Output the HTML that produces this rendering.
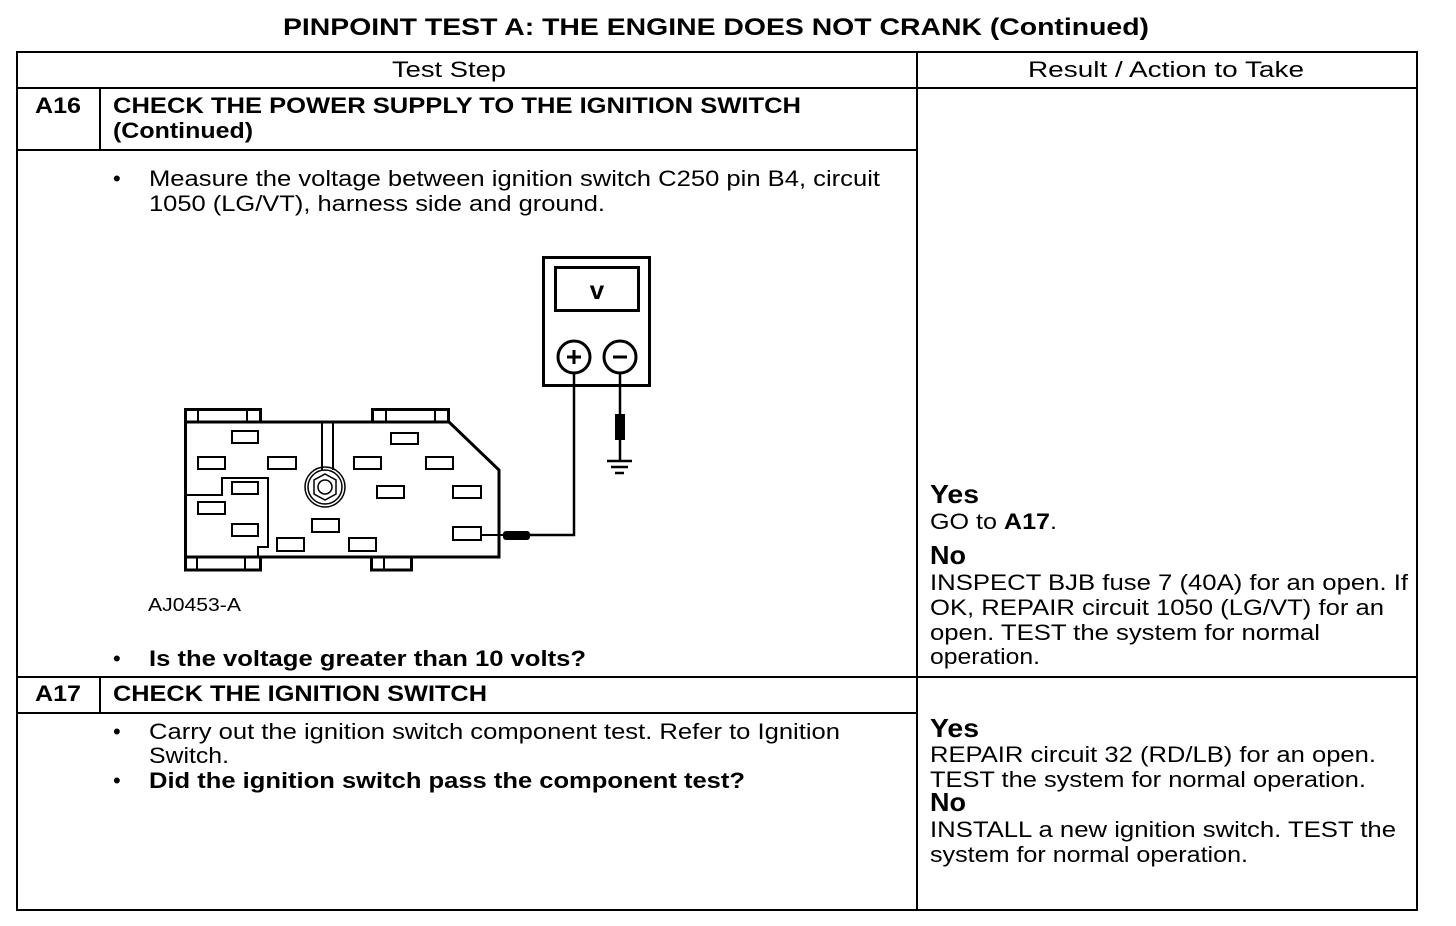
<!DOCTYPE html>
<html><head><meta charset="utf-8"><style>
html,body{margin:0;padding:0;background:#fff;}
svg{display:block;}
text{font-family:"Liberation Sans",Arial,sans-serif;fill:#000;}
.b{font-weight:bold;}
</style></head><body>
<svg width="1456" height="926" viewBox="0 0 1456 926" xmlns="http://www.w3.org/2000/svg">
<rect width="1456" height="926" fill="#fff"/>
<text x="716" y="35" text-anchor="middle" class="b" font-size="24" textLength="866" lengthAdjust="spacingAndGlyphs">PINPOINT TEST  A: THE ENGINE DOES NOT CRANK (Continued)</text>
<g stroke="#000" stroke-width="2" fill="none">
<rect x="17" y="52" width="1400" height="858"/>
<line x1="917" y1="52" x2="917" y2="910"/>
<line x1="17" y1="88" x2="1417" y2="88"/>
<line x1="100" y1="88" x2="100" y2="150"/>
<line x1="17" y1="150" x2="917" y2="150"/>
<line x1="17" y1="677" x2="1417" y2="677"/>
<line x1="100" y1="677" x2="100" y2="713"/>
<line x1="17" y1="713" x2="917" y2="713"/>
</g>
<text x="449" y="77" text-anchor="middle" font-size="22" textLength="114" lengthAdjust="spacingAndGlyphs">Test Step</text>
<text x="1166" y="77" text-anchor="middle" font-size="22" textLength="276" lengthAdjust="spacingAndGlyphs">Result / Action to Take</text>
<text x="35" y="113" class="b" font-size="22" textLength="46" lengthAdjust="spacingAndGlyphs">A16</text>
<text x="113" y="113" class="b" font-size="22" textLength="688" lengthAdjust="spacingAndGlyphs">CHECK THE POWER SUPPLY TO THE IGNITION SWITCH</text>
<text x="113" y="138" class="b" font-size="22" textLength="140" lengthAdjust="spacingAndGlyphs">(Continued)</text>
<text x="113" y="186" font-size="22">•</text>
<text x="149" y="186" font-size="22" textLength="731" lengthAdjust="spacingAndGlyphs">Measure the voltage between ignition switch C250 pin B4, circuit</text>
<text x="149" y="211" font-size="22" textLength="456" lengthAdjust="spacingAndGlyphs">1050 (LG/VT), harness side and ground.</text>
<text x="148" y="611" font-size="18" textLength="93" lengthAdjust="spacingAndGlyphs">AJ0453-A</text>
<text x="113" y="666" font-size="22">•</text>
<text x="149" y="666" class="b" font-size="22" textLength="437" lengthAdjust="spacingAndGlyphs">Is the voltage greater than 10 volts?</text>
<text x="35" y="701" class="b" font-size="22" textLength="46" lengthAdjust="spacingAndGlyphs">A17</text>
<text x="113" y="701" class="b" font-size="22" textLength="374" lengthAdjust="spacingAndGlyphs">CHECK THE IGNITION SWITCH</text>
<text x="113" y="739" font-size="22">•</text>
<text x="149" y="739" font-size="22" textLength="691" lengthAdjust="spacingAndGlyphs">Carry out the ignition switch component test. Refer to Ignition</text>
<text x="149" y="763" font-size="22" textLength="80" lengthAdjust="spacingAndGlyphs">Switch.</text>
<text x="113" y="788" font-size="22">•</text>
<text x="149" y="788" class="b" font-size="22" textLength="596" lengthAdjust="spacingAndGlyphs">Did the ignition switch pass the component test?</text>

<text x="930" y="503" class="b" font-size="26" textLength="49" lengthAdjust="spacingAndGlyphs">Yes</text>
<text x="930" y="529" font-size="22" textLength="127" lengthAdjust="spacingAndGlyphs">GO to <tspan class="b">A17</tspan>.</text>
<text x="930" y="564" class="b" font-size="26" textLength="36" lengthAdjust="spacingAndGlyphs">No</text>
<text x="930" y="590" font-size="22" textLength="478" lengthAdjust="spacingAndGlyphs">INSPECT BJB fuse 7 (40A) for an open. If</text>
<text x="930" y="615" font-size="22" textLength="454" lengthAdjust="spacingAndGlyphs">OK, REPAIR circuit 1050 (LG/VT) for an</text>
<text x="930" y="640" font-size="22" textLength="390" lengthAdjust="spacingAndGlyphs">open. TEST the system for normal</text>
<text x="930" y="664" font-size="22" textLength="110" lengthAdjust="spacingAndGlyphs">operation.</text>
<text x="930" y="737" class="b" font-size="26" textLength="49" lengthAdjust="spacingAndGlyphs">Yes</text>
<text x="930" y="762" font-size="22" textLength="446" lengthAdjust="spacingAndGlyphs">REPAIR circuit 32 (RD/LB) for an open.</text>
<text x="930" y="787" font-size="22" textLength="436" lengthAdjust="spacingAndGlyphs">TEST the system for normal operation.</text>
<text x="930" y="811" class="b" font-size="26" textLength="36" lengthAdjust="spacingAndGlyphs">No</text>
<text x="930" y="837" font-size="22" textLength="466" lengthAdjust="spacingAndGlyphs">INSTALL a new ignition switch. TEST the</text>
<text x="930" y="862" font-size="22" textLength="318" lengthAdjust="spacingAndGlyphs">system for normal operation.</text>

<!-- meter -->
<g stroke="#000" fill="none">
<rect x="543.5" y="257.5" width="106" height="128" stroke-width="3"/>
<rect x="555.5" y="267.5" width="83" height="43" stroke-width="3"/>
<circle cx="574" cy="357" r="16" stroke-width="3"/>
<circle cx="620" cy="357" r="16" stroke-width="3"/>
<line x1="567" y1="357" x2="581" y2="357" stroke-width="3"/>
<line x1="574" y1="350" x2="574" y2="364" stroke-width="3"/>
<line x1="613" y1="357" x2="627" y2="357" stroke-width="3"/>
<polyline points="574,373 574,535 530,535" stroke-width="2.5"/>
<line x1="620" y1="373" x2="620" y2="462" stroke-width="2.5"/>
<line x1="607" y1="461" x2="632" y2="461" stroke-width="2.5"/>
<line x1="611" y1="467" x2="628" y2="467" stroke-width="2.5"/>
<line x1="615" y1="473" x2="624" y2="473" stroke-width="2.5"/>
<line x1="481" y1="535" x2="505" y2="535" stroke-width="2"/>
</g>
<text x="597" y="299" text-anchor="middle" font-family="Liberation Serif" font-weight="bold" font-size="26">v</text>
<rect x="615" y="414" width="10" height="26" fill="#000"/>
<rect x="503" y="531" width="27" height="9" rx="3" fill="#000"/>

<!-- connector -->
<g stroke="#000" fill="none" stroke-width="3">
<polygon points="185.5,422 449,422 499,470 499,557 185.5,557"/>
<rect x="185.5" y="409.5" width="75" height="12.5"/>
<rect x="372.5" y="409.5" width="76" height="12.5"/>
<rect x="185.5" y="557" width="75" height="13"/>
<rect x="371.5" y="557" width="40" height="13"/>
</g>
<g stroke="#000" fill="none" stroke-width="2">
<line x1="198" y1="410" x2="198" y2="422"/><line x1="247" y1="410" x2="247" y2="422"/>
<line x1="386" y1="410" x2="386" y2="422"/><line x1="435" y1="410" x2="435" y2="422"/>
<line x1="197" y1="557" x2="197" y2="570"/><line x1="245" y1="557" x2="245" y2="570"/>
<line x1="384" y1="557" x2="384" y2="570"/>
<polyline points="185,495 222,495 222,478 268,478 268,547 258,547 258,557"/>
<line x1="322" y1="422" x2="322" y2="470"/><line x1="333" y1="422" x2="333" y2="470"/>
<circle cx="325" cy="487" r="20" stroke-width="1.5"/>
<circle cx="325" cy="487" r="17" stroke-width="1.5"/>
<polygon points="325,474 336,480 336,494 325,500 314,494 314,480" stroke-width="1.5"/>
<circle cx="325" cy="487" r="7" stroke-width="1.5"/>
<rect x="232" y="431" width="26" height="12"/>
<rect x="198" y="457" width="27" height="12"/>
<rect x="268" y="457" width="28" height="12"/>
<rect x="354" y="457" width="27" height="12"/>
<rect x="391" y="433" width="27" height="11"/>
<rect x="426" y="457" width="27" height="12"/>
<rect x="232" y="482" width="26" height="12"/>
<rect x="377" y="486" width="27" height="12"/>
<rect x="453" y="486" width="28" height="12"/>
<rect x="198" y="502" width="27" height="12"/>
<rect x="232" y="524" width="26" height="12"/>
<rect x="312" y="519" width="27" height="13"/>
<rect x="277" y="538" width="27" height="13"/>
<rect x="349" y="538" width="27" height="13"/>
<rect x="453" y="527" width="28" height="13"/>
</g>
</svg>
</body></html>
